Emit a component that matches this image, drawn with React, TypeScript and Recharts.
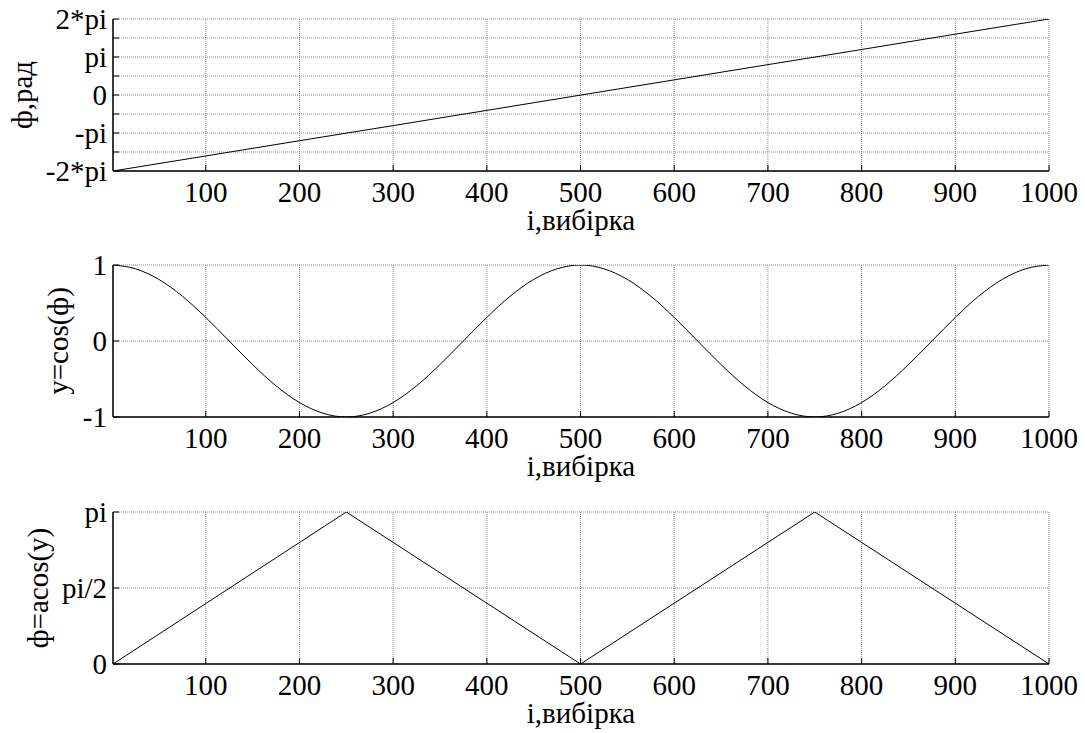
import React from 'react';
import { LineChart, Line, XAxis, YAxis, CartesianGrid, Label } from 'recharts';

// ---- data ----
const phiIdx = [1, 100, 200, 300, 400, 500, 600, 700, 800, 900, 1000];
const phiValues = [-6.283, -5.04, -3.78, -2.53, -1.27, -0.01, 1.25, 2.51, 3.76, 5.03, 6.283];

const cosIdx = [1, 25, 50, 75, 100, 125, 150, 175, 200, 225, 250, 275, 300, 325, 350, 375, 400, 425, 450, 475, 500,
  525, 550, 575, 600, 625, 650, 675, 700, 725, 750, 775, 800, 825, 850, 875, 900, 925, 950, 975, 1000];
const cosValues = [1.0, 0.95, 0.81, 0.59, 0.31, 0.0, -0.31, -0.59, -0.81, -0.95, -1.0, -0.95, -0.81, -0.59, -0.31, 0.0, 0.31, 0.59, 0.81, 0.95, 1.0,
  0.95, 0.81, 0.59, 0.31, 0.0, -0.31, -0.59, -0.81, -0.95, -1.0, -0.95, -0.81, -0.59, -0.31, 0.0, 0.31, 0.59, 0.81, 0.95, 1.0];

const acosIdx = [1, 250, 500, 750, 1000];
const acosValues = [0, 3.1416, 0, 3.1416, 0];

const xTicks = [100, 200, 300, 400, 500, 600, 700, 800, 900, 1000];
const xDomain = [1, 1000];

const phiTicks = [-6.2832, -4.7124, -3.1416, -1.5708, 0, 1.5708, 3.1416, 4.7124, 6.2832];
const phiTickLabels = ['-2*pi', '', '-pi', '', '0', '', 'pi', '', '2*pi'];
const cosTicks = [-1, 0, 1];
const cosTickLabels = ['-1', '0', '1'];
const acosTicks = [0, 1.5708, 3.1416];
const acosTickLabels = ['0', 'pi/2', 'pi'];

const xTitle = 'i,вибірка';
const yTitles = ['ф,рад', 'y=cos(ф)', 'ф=acos(y)'];

// ---- styling ----
const FONT = 'Liberation Serif';
const FS = 29;
const GRID = '#8a8a8a';

const toRows = (xs: number[], ys: number[]) => xs.map((x, i) => ({ x, y: ys[i] }));

const labelFor = (ticks: number[], labels: string[]) => (v: number) => {
  let best = 0;
  for (let i = 1; i < ticks.length; i++) {
    if (Math.abs(ticks[i] - v) < Math.abs(ticks[best] - v)) best = i;
  }
  return labels[best];
};

const YTitle = (cx: number, text: string) => (props: any) => {
  const vb = props.viewBox || { y: 0, height: 0 };
  const cy = vb.y + vb.height / 2;
  return (
    <text x={cx} y={cy} transform={`rotate(-90 ${cx} ${cy})`} textAnchor="middle" dominantBaseline="central"
      fontFamily={FONT} fontSize={FS} fill="#000">{text}</text>
  );
};

const XTitle = (text: string) => (props: any) => {
  const vb = props.viewBox || { x: 0, y: 0, width: 0 };
  const cx = vb.x + vb.width / 2;
  return (
    <text x={cx} y={vb.y + 59} textAnchor="middle" fontFamily={FONT} fontSize={FS} fill="#000">{text}</text>
  );
};

type PanelProps = {
  top: number;
  rows: { x: number; y: number }[];
  yTicks: number[];
  yLabels: string[];
  yTitle: string;
  yTitleX: number;
  smooth?: boolean;
};

const Panel = ({ top, rows, yTicks, yLabels, yTitle, yTitleX, smooth }: PanelProps) => {
  const yDomain = [yTicks[0], yTicks[yTicks.length - 1]];
  const tickStyle = { fontFamily: FONT, fontSize: FS, fill: '#000' };
  const axisLine = { stroke: '#000', strokeWidth: 1.5 };
  return (
    <div style={{ position: 'absolute', left: 0, top, width: 1085, height: 240 }}>
      <LineChart width={1085} height={240} data={rows} margin={{ top: 19, right: 36, bottom: 0, left: 0 }}>
        <CartesianGrid stroke={GRID} strokeDasharray="1 1" strokeWidth={1} />
        <XAxis dataKey="x" type="number" domain={xDomain} ticks={xTicks} allowDataOverflow
          height={69} tickSize={-6} tickMargin={16.5} tick={tickStyle}
          axisLine={axisLine} tickLine={{ stroke: '#000' }} interval={0}>
          <Label content={XTitle(xTitle)} />
        </XAxis>
        <XAxis xAxisId="top" orientation="top" dataKey="x" type="number" domain={xDomain} ticks={xTicks} allowDataOverflow
          height={0} tickSize={-6} tick={false} axisLine={axisLine} tickLine={{ stroke: '#000' }} interval={0} />
        <YAxis type="number" domain={yDomain} ticks={yTicks} allowDataOverflow width={113}
          tickSize={-6} tickMargin={12} tick={tickStyle} tickFormatter={labelFor(yTicks, yLabels)}
          axisLine={axisLine} tickLine={{ stroke: '#000' }} interval={0}>
          <Label content={YTitle(yTitleX, yTitle)} />
        </YAxis>
        <YAxis yAxisId="right" orientation="right" type="number" domain={yDomain} ticks={yTicks} allowDataOverflow width={0}
          tickSize={-6} tick={false} axisLine={axisLine} tickLine={{ stroke: '#000' }} interval={0} />
        <Line dataKey="y" type={smooth ? 'monotone' : 'linear'} stroke="#000" strokeWidth={1} dot={false}
          isAnimationActive={false} />
      </LineChart>
    </div>
  );
};

export default function App() {
  return (
    <div style={{ position: 'absolute', left: 0, top: 0, width: 1085, height: 733, background: '#fff', fontFamily: FONT }}>
      <Panel top={0} rows={toRows(phiIdx, phiValues)} yTicks={phiTicks} yLabels={phiTickLabels}
        yTitle={yTitles[0]} yTitleX={22} />
      <Panel top={246} rows={toRows(cosIdx, cosValues)} yTicks={cosTicks} yLabels={cosTickLabels}
        yTitle={yTitles[1]} yTitleX={58} smooth />
      <Panel top={493} rows={toRows(acosIdx, acosValues)} yTicks={acosTicks} yLabels={acosTickLabels}
        yTitle={yTitles[2]} yTitleX={38} />
    </div>
  );
}
